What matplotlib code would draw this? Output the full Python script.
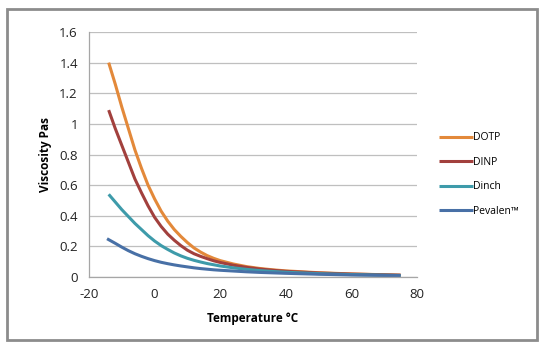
import matplotlib
matplotlib.use("Agg")
import matplotlib.pyplot as plt
from matplotlib.patches import Rectangle

plt.rcParams["font.family"] = ["Open Sans", "DejaVu Sans"]
plt.rcParams["axes.unicode_minus"] = False

# temperature (degC) and viscosity (Pa s)
temp = [-14, -12, -10, -8, -6, -4, -2, 0, 2, 4, 6, 8, 10, 12, 14, 16, 18, 20,
        24, 28, 32, 36, 40, 50, 60, 75]
dotp = [1.40, 1.26, 1.11, 0.97, 0.83, 0.71, 0.60, 0.51, 0.43, 0.365, 0.31, 0.265,
        0.225, 0.19, 0.163, 0.14, 0.122, 0.107, 0.085, 0.068, 0.056, 0.047, 0.04,
        0.028, 0.02, 0.012]
dinp = [1.09, 0.97, 0.86, 0.75, 0.64, 0.55, 0.465, 0.39, 0.33, 0.28, 0.24, 0.205,
        0.175, 0.152, 0.135, 0.12, 0.106, 0.095, 0.077, 0.063, 0.052, 0.044, 0.037,
        0.026, 0.019, 0.012]
dinch = [0.54, 0.49, 0.44, 0.395, 0.35, 0.31, 0.27, 0.235, 0.205, 0.18, 0.157, 0.138,
         0.122, 0.109, 0.098, 0.088, 0.08, 0.072, 0.06, 0.05, 0.042, 0.036, 0.031,
         0.022, 0.016, 0.01]
temp_pev = [-14.5, -12, -10, -8, -6, -4, -2, 0, 2, 4, 6, 8, 10, 12, 14, 16, 18, 20,
            24, 28, 32, 36, 40, 50, 60, 75]
pevalen = [0.25, 0.22, 0.195, 0.172, 0.152, 0.135, 0.12, 0.107, 0.096, 0.087, 0.079,
           0.072, 0.066, 0.06, 0.055, 0.051, 0.047, 0.044, 0.039, 0.034, 0.03, 0.027,
           0.024, 0.018, 0.013, 0.009]

series = [("DOTP", temp, dotp, "#E3893A"),
          ("DINP", temp, dinp, "#A2403D"),
          ("Dinch", temp, dinch, "#3E9BAA"),
          ("Pevalen\u2122", temp_pev, pevalen, "#4870A6")]

W, H = 544, 343
fig = plt.figure(figsize=(W / 100, H / 100), dpi=100)
fig.patch.set_facecolor("white")

# outer chart border
fig.add_artist(Rectangle((7 / W, 1 - 340 / H), 530 / W, 331 / H,
                         transform=fig.transFigure, fill=False,
                         edgecolor="#8C8C8C", lw=2))

ax = fig.add_axes([89 / W, 1 - 277 / H, (417 - 89) / W, (277 - 32) / H])
for name, x, y, c in series:
    ax.plot(x, y, color=c, lw=2.2, label=name, solid_capstyle="butt",
            solid_joinstyle="round")

ax.set_xlim(-20, 80)
ax.set_ylim(0, 1.6)
ax.set_xticks(range(-20, 81, 20))
ax.set_yticks([0, 0.2, 0.4, 0.6, 0.8, 1.0, 1.2, 1.4, 1.6])
ax.set_yticklabels(["0", "0.2", "0.4", "0.6", "0.8", "1", "1.2", "1.4", "1.6"])
ax.yaxis.grid(True, color="#BFBFBF", lw=0.9)
ax.set_axisbelow(True)
for s in ["top", "right"]:
    ax.spines[s].set_visible(False)
for s in ["left", "bottom"]:
    ax.spines[s].set_color("#A6A6A6")
    ax.spines[s].set_linewidth(0.9)
ax.tick_params(length=0, labelsize=9.5, colors="#222222", pad=8)
ax.set_xlabel("Temperature \u00b0C", fontsize=8.5, fontweight="bold", labelpad=8)
ax.set_ylabel("Viscosity Pas", fontsize=8.5, fontweight="bold", labelpad=5)

ax.legend(loc="upper left", bbox_to_anchor=(435 / W, 1 - 128 / H),
          bbox_transform=fig.transFigure, frameon=False, fontsize=7.5,
          handlelength=3.2, handletextpad=0.05, labelspacing=1.3,
          borderaxespad=0)

fig.savefig("out.png", dpi=100)
